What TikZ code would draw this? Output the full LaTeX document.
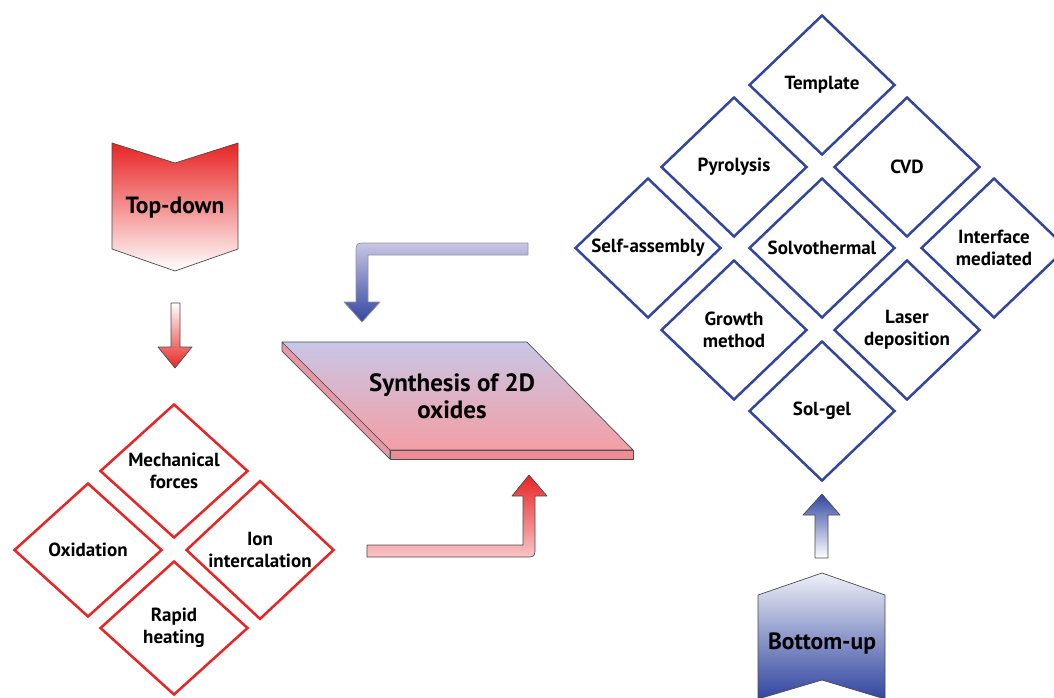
\documentclass[tikz,border=0pt]{standalone}
\usepackage{fontspec}
\setmainfont{PT Sans}
\usetikzlibrary{shapes.geometric,calc}
\definecolor{rd}{RGB}{232,36,36}
\definecolor{bl}{RGB}{50,70,160}
\definecolor{lav}{RGB}{200,198,230}
\definecolor{pk}{RGB}{244,158,164}
\definecolor{pkside}{RGB}{238,140,150}
\definecolor{edge}{RGB}{75,75,75}
\begin{document}
\begin{tikzpicture}[x=1pt,y=-1pt,
  bdia/.style={diamond, draw=bl, line width=2.5pt, minimum width=146pt, minimum height=140pt,
    inner sep=0pt, align=center, font=\fontsize{19}{22}\selectfont\bfseries},
  rdia/.style={bdia, draw=rd, minimum width=148pt, minimum height=134pt},
  big/.style={font=\fontsize{23.5}{27}\selectfont\bfseries, align=center},
  blk/.style={draw=edge, line width=0.7pt, line join=round}]
\useasboundingbox (0,0) rectangle (1054,697);

% ---------- blue diamonds ----------
\node[bdia] (tmpl) at (822,85) {Template};
\node[bdia] (pyro) at (734,167) {Pyrolysis};
\node[bdia] (cvd)  at (907,167) {CVD};
\node[bdia] (self) at (648,248) {Self-assembly};
\node[bdia] (solv) at (822,248) {Solvothermal};
\node[bdia] (intf) at (994,248) {Interface\\mediated};
\node[bdia] (grow) at (734,330) {Growth\\method};
\node[bdia] (lasr) at (907,330) {Laser\\deposition};
\node[bdia] (solg) at (822,411) {Sol-gel};

% ---------- red diamonds ----------
\node[rdia] (mech) at (174,471) {Mechanical\\forces};
\node[rdia] (oxid) at (88,550) {Oxidation};
\node[rdia] (ion)  at (260,550) {Ion\\intercalation};
\node[rdia] (rapd) at (174,628) {Rapid\\heating};

% ---------- top-down chevron ----------
\path[blk, top color=rd, bottom color=white]
  (112,143) -- (175,163) -- (238,143) -- (238,249) -- (175,271) -- (112,249) -- cycle;
\node[big] (td) at (175,208) {Top-down};

% small down arrow
\path[blk, top color=white, bottom color=rd]
  (171,303) -- (180,303) -- (180,347) -- (192,347) -- (175,368) -- (158,347) -- (171,347) -- cycle;

% ---------- bottom-up chevron ----------
\path[blk, top color=white!92!bl, bottom color=bl, middle color=bl!55!white]
  (758,595) -- (822,573) -- (885,595) -- (885,699) -- (822,680) -- (758,699) -- cycle;
\node[big] (bu) at (822,643) {Bottom-up};

% small up arrow
\path[blk, top color=bl, bottom color=white]
  (815,558) -- (815,515) -- (803,515) -- (822,494) -- (840,515) -- (828,515) -- (828,558) -- cycle;

% ---------- synthesis slab ----------
\path[blk, fill=pkside!80!lav] (282,342) -- (390,450) -- (390,459) -- (282,351) -- cycle;
\path[blk, fill=pkside] (390,450) -- (633,450) -- (633,459) -- (390,459) -- cycle;
\path[blk, top color=lav, bottom color=pk] (282,342) -- (527,342) -- (633,450) -- (390,450) -- cycle;
\node[font=\fontsize{25}{27}\selectfont\bfseries, align=center] (syn) at (452,396) {Synthesis of 2D\\oxides};

% ---------- blue bent arrow ----------
\path[blk, draw=edge!60, top color=lav, bottom color=bl]
  (528,243) -- (366,243) .. controls (356,243) .. (356,253) -- (356,302) -- (344,302)
  -- (362,322) -- (380,302) -- (368,302) -- (368,255) -- (528,255) -- cycle;

% ---------- red bent arrow ----------
\path[blk, top color=rd, bottom color=pk!60!white]
  (367,545) -- (523,545) -- (523,496) -- (512,496) -- (529,475) -- (547,496) -- (535,496)
  -- (535,547) .. controls (535,557) .. (525,557) -- (367,557) -- cycle;
\end{tikzpicture}
\end{document}
